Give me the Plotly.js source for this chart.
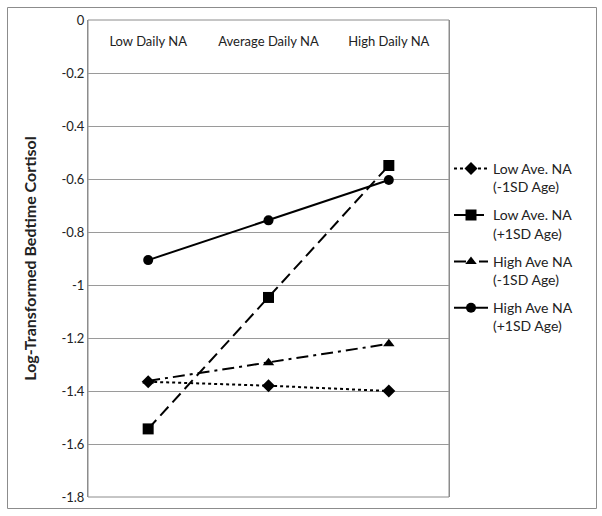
<!DOCTYPE html>
<html>
<head>
<meta charset="utf-8">
<script src="https://cdn.plot.ly/plotly-3.0.1.min.js"></script>
<style>
html,body{margin:0;padding:0;background:#fff;}
#chart{width:602px;height:516px;}
</style>
</head>
<body>
<div id="chart"></div>
<script>
const categories = ["Low Daily NA", "Average Daily NA", "High Daily NA"];
const seriesNames = ["Low Ave. NA<br>(-1SD Age)", "Low Ave. NA<br>(+1SD Age)", "High Ave NA<br>(-1SD Age)", "High Ave NA<br>(+1SD Age)"];
const lowAveMinus = [-1.365, -1.38, -1.40];
const lowAvePlus = [-1.543, -1.047, -0.549];
const highAveMinus = [-1.362, -1.293, -1.222];
const highAvePlus = [-0.906, -0.756, -0.604];
const yTicks = [0, -0.2, -0.4, -0.6, -0.8, -1, -1.2, -1.4, -1.6, -1.8];
const yTickText = ["0", "-0.2", "-0.4", "-0.6", "-0.8", "-1", "-1.2", "-1.4", "-1.6", "-1.8"];

const W = 602, H = 516;
const M = {l: 88, r: 153, t: 20, b: 19};
const pw = W - M.l - M.r, ph = H - M.t - M.b;
const px = v => (v - M.l) / pw;
const py = v => 1 - (v - M.t) / ph;

const fontFam = "Lato, 'Open Sans', sans-serif";

const traces = [
  {y: lowAveMinus, name: seriesNames[0], line: {dash: "dot", width: 2}, marker: {symbol: "diamond", size: 10}},
  {y: lowAvePlus, name: seriesNames[1], line: {dash: "12px,6px", width: 2}, marker: {symbol: "square", size: 11}},
  {y: highAveMinus, name: seriesNames[2], line: {dash: "12px,5px,3px,5px", width: 2}, marker: {symbol: "triangle-up", size: 10}},
  {y: highAvePlus, name: seriesNames[3], line: {dash: "solid", width: 2}, marker: {symbol: "circle", size: 10}}
].map((t, i) => Object.assign({
  type: "scatter", mode: "lines+markers", x: categories, legendgroup: "g" + i
}, t, {
  line: Object.assign({color: "#000"}, t.line),
  marker: Object.assign({color: "#000"}, t.marker)
}));

const layout = {
  width: W, height: H,
  margin: M,
  paper_bgcolor: "#fff", plot_bgcolor: "#fff",
  font: {family: fontFam, size: 12, color: "#222"},
  showlegend: true,
  legend: {
    x: 1.0, xanchor: "left", y: py(153), yanchor: "top",
    font: {family: fontFam, size: 14, color: "#222"},
    tracegroupgap: 7, itemwidth: 34, valign: "top",
    bgcolor: "rgba(0,0,0,0)"
  },
  xaxis: {
    type: "category", range: [-0.5, 2.5],
    side: "bottom", anchor: "free", position: py(32), ticks: "",
    showgrid: false, showline: false, zeroline: false,
    tickfont: {family: fontFam, size: 13, color: "#222"},
    fixedrange: true
  },
  yaxis: {
    range: [-1.8, 0], tickvals: yTicks, ticktext: yTickText,
    showgrid: true, gridcolor: "#9a9a9a", gridwidth: 1,
    zeroline: false, showline: true, mirror: true, linecolor: "#8c8c8c", linewidth: 1,
    ticks: "", ticklen: 0,
    tickfont: {family: fontFam, size: 13, color: "#222"},
    title: {text: "<b>Log-Transformed Bedtime Cortisol</b>", font: {family: fontFam, size: 16, color: "#222"}, standoff: 20}
  },
  shapes: [
    {type: "rect", xref: "paper", yref: "paper", x0: 0, x1: 1, y0: 0, y1: 1,
     line: {color: "#8c8c8c", width: 1}, layer: "below"},
    {type: "rect", xref: "paper", yref: "paper",
     x0: px(7.5), x1: px(596.5), y0: py(508.5), y1: py(7.5),
     line: {color: "#8c8c8c", width: 1}}
  ]
};

Plotly.newPlot("chart", traces, layout, {displayModeBar: false, staticPlot: true});
</script>
</body>
</html>
